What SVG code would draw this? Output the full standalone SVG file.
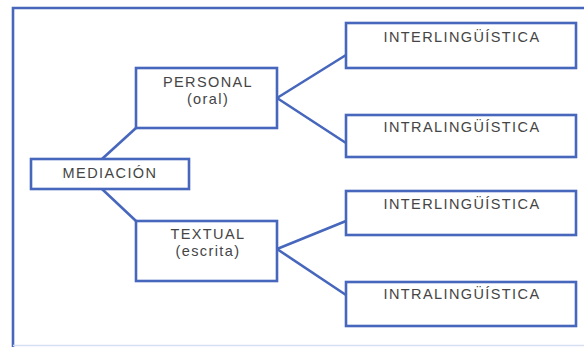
<svg xmlns="http://www.w3.org/2000/svg" width="584" height="347" viewBox="0 0 584 347">
<style>
.box{fill:#ffffff;stroke:#4767bd;stroke-width:2.6}
.ln{stroke:#4767bd;stroke-width:2.6;fill:none}
.t{font-family:"Liberation Sans",Arial,sans-serif;font-size:14.5px;fill:#454545;text-anchor:middle;letter-spacing:1.4px}
</style>
<rect width="584" height="347" fill="#ffffff"/>
<g id="frame">
<path d="M13,347 V8 H584" class="ln" stroke-width="2.2"/>
<line x1="13" y1="345.5" x2="584" y2="345.5" stroke="#d6def2" stroke-width="1.5"/>
</g>
<g id="connectors">
<line x1="102" y1="159" x2="136" y2="128" class="ln"/>
<line x1="102" y1="189" x2="136" y2="221" class="ln"/>
<line x1="277" y1="98" x2="346" y2="55" class="ln"/>
<line x1="277" y1="98" x2="346" y2="143" class="ln"/>
<line x1="277" y1="249" x2="346" y2="221" class="ln"/>
<line x1="277" y1="249" x2="346" y2="295" class="ln"/>
</g>
<g id="mediacion">
<rect x="31" y="159" width="158" height="30" class="box"/>
<text x="110" y="178" class="t">MEDIACIÓN</text>
</g>
<g id="personal">
<rect x="136" y="68" width="141" height="60" class="box"/>
<text x="208" y="87" class="t">PERSONAL</text>
<text x="208" y="103.5" class="t">(oral)</text>
</g>
<g id="textual">
<rect x="136" y="221" width="141" height="60" class="box"/>
<text x="208" y="239" class="t">TEXTUAL</text>
<text x="208" y="255.5" class="t">(escrita)</text>
</g>
<g id="personal-inter">
<rect x="346" y="23" width="230" height="45" class="box"/>
<text x="462" y="42" class="t">INTERLINGÜÍSTICA</text>
</g>
<g id="personal-intra">
<rect x="346" y="115" width="230" height="42" class="box"/>
<text x="462" y="132" class="t">INTRALINGÜÍSTICA</text>
</g>
<g id="textual-inter">
<rect x="346" y="191" width="230" height="44" class="box"/>
<text x="462" y="209" class="t">INTERLINGÜÍSTICA</text>
</g>
<g id="textual-intra">
<rect x="346" y="282" width="230" height="44" class="box"/>
<text x="462" y="299" class="t">INTRALINGÜÍSTICA</text>
</g>
</svg>
